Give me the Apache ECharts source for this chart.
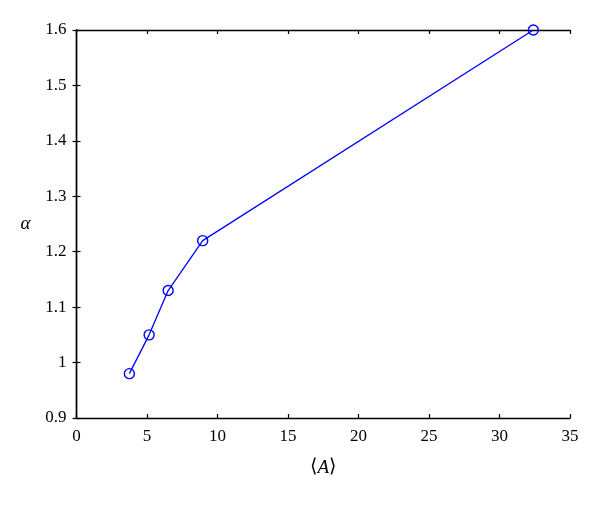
<!DOCTYPE html>
<html><head><meta charset="utf-8">
<script src="https://cdn.jsdelivr.net/npm/echarts@6/dist/echarts.min.js"></script>
<style>html,body{margin:0;padding:0;background:#fff}#c{width:600px;height:510px}</style>
</head><body><div id="c"></div>
<script>
const xValues = [3.75, 5.15, 6.5, 8.95, 32.4];
const yValues = [0.98, 1.05, 1.13, 1.22, 1.6];
const xTicks = [0, 5, 10, 15, 20, 25, 30, 35];
const yTicks = [0.9, 1.0, 1.1, 1.2, 1.3, 1.4, 1.5, 1.6];

const font = 'Liberation Serif';
const chart = echarts.init(document.getElementById('c'), null, {renderer: 'canvas'});
const axisLine = {show: true, lineStyle: {color: '#000', width: 1.4}};
const tick = {show: true, inside: true, length: 4, lineStyle: {color: '#000', width: 1.2}};
chart.setOption({
  animation: false,
  grid: {left: 76.5, right: 30, top: 30, bottom: 92, containLabel: false},
  xAxis: [{
    type: 'value', min: xTicks[0], max: xTicks[xTicks.length - 1], interval: 5,
    axisLine, axisTick: tick, splitLine: {show: false},
    axisLabel: {fontFamily: font, fontSize: 17, color: '#000', margin: 10},
    name: '{a|⟨}{b|A}{a|⟩}', nameLocation: 'middle', nameGap: 40,
    nameTextStyle: {rich: {a: {fontFamily: font, fontSize: 19, color: '#000'}, b: {fontFamily: font, fontSize: 19, fontStyle: 'italic', color: '#000'}}}
  }, {
    type: 'value', position: 'top', min: xTicks[0], max: xTicks[xTicks.length - 1], interval: 5,
    axisLine, axisTick: tick, axisLabel: {show: false}, splitLine: {show: false}
  }],
  yAxis: [{
    type: 'value', min: yTicks[0], max: yTicks[yTicks.length - 1], interval: 0.1,
    axisLine, axisTick: tick, splitLine: {show: false},
    axisLabel: {fontFamily: font, fontSize: 17, color: '#000', margin: 10, formatter: v => String(+v.toFixed(1))},
    name: 'α', nameLocation: 'middle', nameGap: 46, nameRotate: 0,
    nameTextStyle: {fontFamily: font, fontSize: 19, fontStyle: 'italic', color: '#000'}
  }, {
    type: 'value', position: 'right', min: yTicks[0], max: yTicks[yTicks.length - 1], interval: 0.1,
    axisLine, axisTick: tick, axisLabel: {show: false}, splitLine: {show: false}
  }],
  series: [{
    type: 'line',
    data: xValues.map((x, i) => [x, yValues[i]]),
    symbol: 'circle', symbolSize: 10, showAllSymbol: true,
    lineStyle: {color: '#0000ff', width: 1.3},
    itemStyle: {color: 'rgba(0,0,0,0)', borderColor: '#0000ff', borderWidth: 1.4}
  }]
});
</script></body></html>
